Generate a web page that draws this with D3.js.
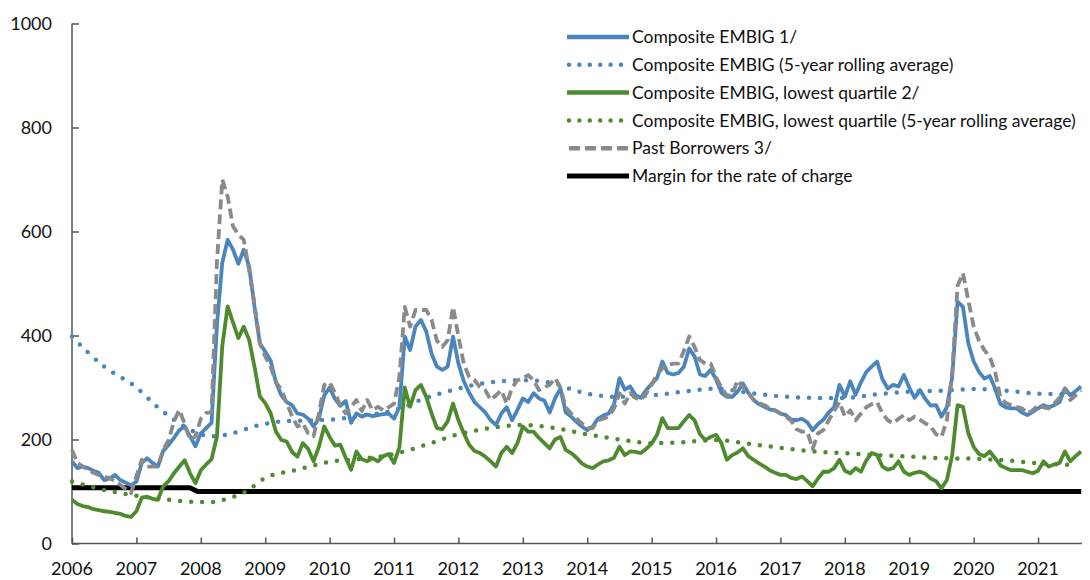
<!DOCTYPE html>
<html>
<head>
<meta charset="utf-8">
<script src="https://cdn.jsdelivr.net/npm/d3@7"></script>
<style>
  body { margin: 0; background: #fff; }
  svg { display: block; font-family: Lato, "Open Sans", sans-serif; }
  .axis path, .axis line { stroke: #555; stroke-width: 1.5; }
</style>
</head>
<body>
<svg width="1090" height="580"></svg>
<script>
// monthly values, Jan 2006 onwards
var startYear = 2006;
var yearTicks = [2006, 2007, 2008, 2009, 2010, 2011, 2012, 2013, 2014, 2015, 2016, 2017, 2018, 2019, 2020, 2021];
var valueTicks = [0, 200, 400, 600, 800, 1000];

var composite = [158,145,148,145,140,136,122,125,132,122,117,112,
  119,155,164,155,148,178,190,203,218,225,206,187,
  212,222,232,420,540,584,565,538,565,533,456,385,
  369,352,310,285,272,266,250,248,240,225,240,285,
  300,278,265,274,232,250,244,248,245,247,249,250,
  240,262,398,372,417,430,408,365,340,334,340,398,
  346,312,290,272,262,252,237,228,250,262,237,257,
  279,272,289,279,275,252,279,298,252,244,234,225,
  218,225,240,246,250,268,318,296,302,285,280,295,
  307,318,350,328,325,328,340,375,360,325,322,334,
  316,290,282,282,292,308,290,276,268,263,258,256,
  250,247,238,237,240,233,218,230,238,252,262,305,
  282,312,286,310,330,340,350,316,298,305,302,324,
  300,280,295,278,265,266,244,262,320,465,455,385,
  350,330,317,322,298,268,262,260,260,252,247,253,
  260,266,262,266,272,298,285,293,302];

var lowestQuartile = [84,76,72,70,66,64,62,61,59,57,53,51,
  62,88,90,86,84,110,120,135,148,160,135,116,
  141,152,162,205,380,456,425,395,417,392,340,283,
  270,251,215,199,196,176,167,193,182,158,186,225,
  205,188,190,165,142,177,162,158,164,158,168,172,
  155,185,300,263,295,305,282,250,222,220,235,269,
  237,212,190,178,174,167,158,148,174,186,174,193,
  225,215,215,203,193,183,200,205,180,174,165,154,
  148,145,152,158,160,165,186,170,177,176,174,182,
  192,209,241,222,222,222,235,247,237,210,199,205,
  209,193,161,170,175,183,168,161,154,148,141,136,
  132,132,126,124,129,120,110,125,138,138,145,161,
  140,135,145,138,160,174,170,148,142,145,158,138,
  132,136,138,134,125,120,106,122,170,266,263,212,
  186,172,168,177,164,150,145,141,141,141,138,135,
  140,158,148,152,155,177,158,168,177];

var pastBorrowers = [180,155,148,142,136,132,128,126,120,113,105,97,
  129,161,148,148,148,180,199,235,257,230,199,206,
  240,251,252,540,700,667,610,594,584,526,460,385,
  360,340,310,296,270,245,225,231,212,206,250,305,
  310,290,265,250,263,276,255,276,256,263,256,262,
  269,320,455,417,449,449,449,430,390,378,391,455,
  398,346,320,314,301,295,276,285,295,269,300,314,
  318,324,314,295,301,305,318,300,262,250,240,231,
  222,222,237,240,244,260,289,269,289,280,276,289,
  305,325,337,342,346,346,370,398,378,353,346,346,
  320,300,285,285,314,300,290,276,270,266,260,256,
  250,244,236,220,215,215,182,212,218,237,255,272,
  244,256,237,250,262,268,272,250,237,231,240,247,
  237,244,238,231,225,210,205,237,330,495,520,468,
  417,390,372,359,330,280,270,266,263,260,250,256,
  266,262,260,269,280,298,276,285,295];

// 5-year rolling averages, read at irregular dates
var avgYears = [2006.0, 2006.5, 2007.0, 2007.33, 2007.67, 2008.0, 2008.15, 2008.5, 2008.85, 2009.2, 2009.5, 2010.0, 2010.5, 2011.0, 2011.5, 2012.0, 2012.5, 2013.0, 2013.4, 2013.8, 2014.0, 2014.5, 2015.0, 2015.5, 2016.0, 2016.5, 2017.0, 2017.5, 2018.0, 2018.5, 2019.0, 2019.5, 2020.0, 2020.5, 2021.0, 2021.5, 2021.67];
var compositeAvg = [398, 340, 300, 262, 231, 210, 206, 212, 226, 234, 236, 238, 246, 256, 280, 298, 310, 314, 310, 295, 288, 282, 285, 292, 298, 290, 283, 280, 280, 287, 292, 294, 297, 294, 288, 287, 289];
var quartileAvgYears = [2006.0, 2006.5, 2007.0, 2007.5, 2008.0, 2008.2, 2008.4, 2008.7, 2009.0, 2009.5, 2010.0, 2010.5, 2011.0, 2011.5, 2012.0, 2012.5, 2013.0, 2013.5, 2014.0, 2014.5, 2015.0, 2015.5, 2016.0, 2016.5, 2017.0, 2017.5, 2018.0, 2018.5, 2019.0, 2019.5, 2020.0, 2020.5, 2021.0, 2021.5, 2021.6];
var quartileAvg = [119, 103, 92, 84, 80, 80, 86, 100, 126, 142, 157, 163, 172, 190, 210, 222, 228, 222, 210, 200, 193, 195, 199, 192, 184, 177, 174, 170, 167, 164, 163, 160, 154, 151, 150];

var marginYears = [2006.0, 2007.83, 2007.95, 2021.67];
var marginValues = [107, 107, 100, 100];

var legendLabels = [
  "Composite EMBIG 1/",
  "Composite EMBIG (5-year rolling average)",
  "Composite EMBIG, lowest quartile 2/",
  "Composite EMBIG, lowest quartile (5-year rolling average)",
  "Past Borrowers 3/",
  "Margin for the rate of charge"
];

var blue = "#4a86bd", green = "#4e8b2e", grey = "#8a8a8a";

var svg = d3.select("svg");
var x = d3.scaleLinear().domain([2006, 2006 + 188 / 12]).range([72, 1081]);
var y = d3.scaleLinear().domain([0, 1000]).range([543.5, 23.5]);

var monthly = function(arr) {
  return arr.map(function(v, i) { return [startYear + i / 12, v]; });
};
var zip = function(xs, vs) {
  return xs.map(function(t, i) { return [t, vs[i]]; });
};

var line = d3.line().x(function(d) { return x(d[0]); }).y(function(d) { return y(d[1]); });
var smooth = d3.line().curve(d3.curveMonotoneX).x(function(d) { return x(d[0]); }).y(function(d) { return y(d[1]); });

// axes
var yAxis = svg.append("g").attr("class", "axis").attr("transform", "translate(72,0)")
  .call(d3.axisRight(y).tickValues(valueTicks).tickSize(7).tickFormat(""));
yAxis.select(".domain").attr("d", "M0," + y(1000) + "V" + y(0));
svg.append("g").selectAll("text").data(valueTicks).enter().append("text")
  .attr("x", 52).attr("y", function(d) { return y(d); }).attr("dy", "0.36em")
  .attr("text-anchor", "end").attr("font-size", 18).attr("fill", "#111")
  .text(function(d) { return d; });

var xAxis = svg.append("g").attr("class", "axis").attr("transform", "translate(0,543.5)")
  .call(d3.axisTop(x).tickValues(yearTicks).tickSize(6).tickFormat(""));
xAxis.select(".domain").attr("d", "M72,0H1082");
svg.append("g").selectAll("text").data(yearTicks).enter().append("text")
  .attr("x", function(d) { return x(d); }).attr("y", 575)
  .attr("text-anchor", "middle").attr("font-size", 18).attr("fill", "#111")
  .text(function(d) { return d; });

// series
var plot = svg.append("g").attr("fill", "none").attr("stroke-linejoin", "round");
plot.append("path").datum(zip(marginYears, marginValues)).attr("d", line)
  .attr("stroke", "#000").attr("stroke-width", 5);
plot.append("path").datum(zip(quartileAvgYears, quartileAvg)).attr("d", smooth)
  .attr("stroke", green).attr("stroke-width", 4.5).attr("stroke-linecap", "round").attr("stroke-dasharray", "0 11");
plot.append("path").datum(zip(avgYears, compositeAvg)).attr("d", smooth)
  .attr("stroke", blue).attr("stroke-width", 4.5).attr("stroke-linecap", "round").attr("stroke-dasharray", "0 11");
plot.append("path").datum(monthly(lowestQuartile)).attr("d", line)
  .attr("stroke", green).attr("stroke-width", 3.8);
plot.append("path").datum(monthly(composite)).attr("d", line)
  .attr("stroke", blue).attr("stroke-width", 3.8);
plot.append("path").datum(monthly(pastBorrowers)).attr("d", line)
  .attr("stroke", grey).attr("stroke-width", 3.8).attr("stroke-dasharray", "10 5");

// legend
var styles = [
  { color: blue, width: 4.5, dash: null, cap: "butt" },
  { color: blue, width: 4.5, dash: "0 10.4", cap: "round" },
  { color: green, width: 4.5, dash: null, cap: "butt" },
  { color: green, width: 4.5, dash: "0 10.4", cap: "round" },
  { color: grey, width: 4.5, dash: "11 5", cap: "butt" },
  { color: "#000", width: 5, dash: null, cap: "butt" }
];
var legend = svg.append("g").selectAll("g").data(legendLabels).enter().append("g")
  .attr("transform", function(d, i) { return "translate(567," + (37 + i * 27.8) + ")"; });
legend.append("line").attr("x1", function(d, i) { return styles[i].dash ? 2 : 0; })
  .attr("x2", 62)
  .attr("stroke", function(d, i) { return styles[i].color; })
  .attr("stroke-width", function(d, i) { return styles[i].width; })
  .attr("stroke-linecap", function(d, i) { return styles[i].cap; })
  .attr("stroke-dasharray", function(d, i) { return styles[i].dash; });
legend.append("text").attr("x", 65).attr("dy", "0.35em").attr("font-size", 17.5).attr("fill", "#111")
  .text(function(d) { return d; });
</script>
</body>
</html>
